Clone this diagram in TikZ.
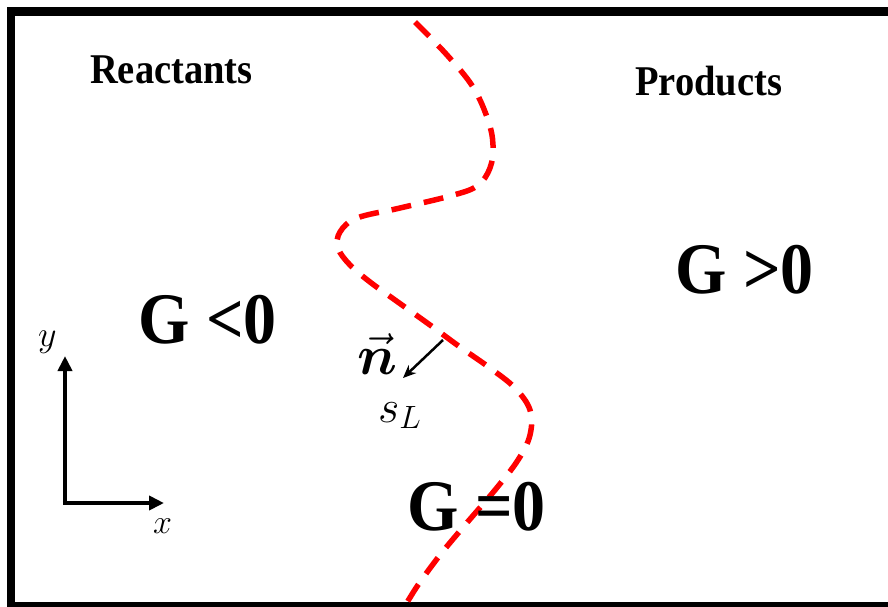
\RequirePackage{fix-cm}
\documentclass[tikz,border=0pt]{standalone}
\usepackage{fontspec}
\usepackage{amsmath}
\usepackage{graphicx}
\setmainfont{Liberation Serif}
\usetikzlibrary{arrows.meta}
\newcommand{\vst}[1]{\scalebox{1}[1.1]{#1}}
\tikzset{
  lbl/.style={inner sep=0pt, anchor=base west, font=\fontsize{38.5}{40}\selectfont\bfseries},
  glbl/.style={inner sep=0pt, anchor=base west, font=\fontsize{66}{70}\selectfont\bfseries},
  mlbl/.style={inner sep=0pt, anchor=base west},
  front/.style={red, line width=5.5pt, dash pattern=on 20pt off 13pt},
  axis/.style={line width=4.5pt, -{Triangle[length=15pt,width=14pt]}},
  normal/.style={line width=2.5pt, -{Stealth[length=13pt,width=11pt]}},
  frame/.style={line width=8.5pt}
}
\begin{document}
\begin{tikzpicture}[x=1pt,y=-1pt]
\useasboundingbox (0,0) rectangle (888,606);
\clip (0,0) rectangle (888,606);
\fill[white] (0,0) rectangle (888,606);
\draw[frame] (11,11.5) rectangle (950,606.5);
% flame front G=0
\draw[front] plot[smooth, tension=0.6] coordinates {
 (415,22) (447,55) (473,87) (488,120) (493,145) (490,168) (477,186) (450,196)
 (400,208) (357,218) (340,232) (338,248) (350,265) (370,282) (395,300) (430,325)
 (460,347) (490,368) (515,388) (530,410) (530,435) (518,460) (495,490) (465,525)
 (440,555) (418,585) (405,606)};
% labels
\node[lbl] (reac) at (90,83) {\vst{Reactants}};
\node[lbl] (prod) at (635,95) {\vst{Products}};
\node[glbl] (gneg) at (138,343) {\vst{G <0}};
\node[glbl] (gpos) at (675,293) {\vst{G >0}};
\node[glbl] (gzero) at (407,530) {\vst{G =0}};
\node[mlbl, font=\fontsize{56}{60}\selectfont] (nvec) at (357,374) {$\vec{\boldsymbol{n}}$};
\node[mlbl, font=\fontsize{46}{50}\selectfont] (sl) at (378,422) {$s_L$};
% normal arrow
\coordinate (nstart) at (443,340);
\coordinate (nend) at (403,378);
\draw[normal] (nstart) -- (nend);
% axes
\coordinate (orig) at (65,503);
\coordinate (yend) at (65,356);
\coordinate (xend) at (164,503);
\draw[axis] (orig) -- (yend);
\draw[axis] ([xshift=-2.25pt]orig) -- (xend);
\node[mlbl, font=\fontsize{36}{38}\selectfont] (ylab) at (38,346) {$y$};
\node[mlbl, font=\fontsize{34}{36}\selectfont] (xlab) at (153,533) {$x$};
\end{tikzpicture}
\end{document}
